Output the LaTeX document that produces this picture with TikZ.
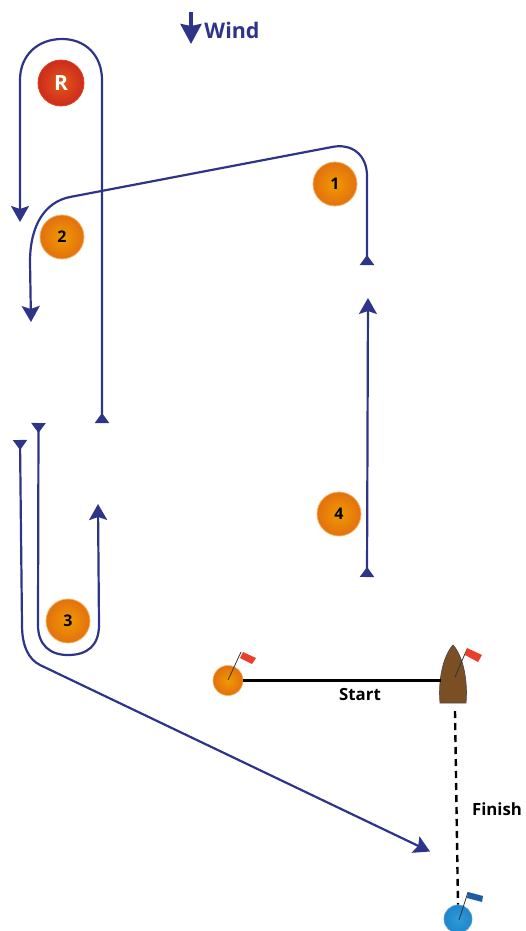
\documentclass[tikz,border=0pt]{standalone}
\usepackage{fontspec}
\setmainfont{Open Sans}
\usetikzlibrary{arrows.meta}
\definecolor{course}{HTML}{2E3488}
\definecolor{markmid}{HTML}{F09A00}
\definecolor{markedge}{HTML}{E3700F}
\definecolor{markline}{HTML}{F3B45A}
\definecolor{roundmid}{HTML}{D8501C}
\definecolor{roundedge}{HTML}{CE2A1E}
\definecolor{hull}{HTML}{7B4F24}
\definecolor{flagred}{HTML}{E8402A}
\definecolor{flagblue}{HTML}{1F5CA8}
\definecolor{finishmid}{HTML}{2E9BD8}
\definecolor{finishedge}{HTML}{1F86CC}

\begin{document}
\begin{tikzpicture}[x=1pt,y=-1pt]
\tikzstyle{buoy}=[circle,draw=markline,line width=0.8pt,inner sep=0pt,minimum size=44pt,inner color=markmid,outer color=markedge,font=\bfseries\fontsize{16}{16}\selectfont]
\tikzstyle{roundmark}=[circle,draw=roundedge!70!orange,line width=0.8pt,inner sep=0pt,minimum size=46pt,inner color=roundmid!80!orange,outer color=roundedge,text=white,font=\bfseries\fontsize{21}{21}\selectfont]
\tikzstyle{gatebuoy}=[circle,draw=markline,line width=0.6pt,inner sep=0pt,minimum size=30pt,inner color=markmid,outer color=markedge]
\tikzstyle{finishbuoy}=[circle,draw=finishedge!80!white,line width=0.6pt,inner sep=0pt,minimum size=28pt,inner color=finishmid,outer color=finishedge]
\tikzstyle{leg}=[draw=course,line width=2.2pt,{Triangle[reversed,length=10pt,width=14pt]}-{Stealth[length=16pt,width=18pt,inset=3pt]}]
\tikzstyle{pole}=[draw=black!80,line width=0.8pt]
\tikzstyle{caption}=[inner sep=0pt,font=\bfseries\fontsize{16.8}{16.8}\selectfont]
\useasboundingbox (0,0) rectangle (525,931);

\node[roundmark] (markR) at (61,83){R};
\node[buoy] (mark1) at (335,184){1};
\node[buoy] (mark2) at (62,237){2};
\node[buoy] (mark3) at (68,621){3};
\node[buoy] (mark4) at (339,514){4};
\node[gatebuoy] (startbuoy) at (228,680.5){};
\node[finishbuoy] (finishpin) at (458,919){};

\node[caption,text=course,font=\bfseries\fontsize{21.5}{21.5}\selectfont] (windlabel) at (232,30){Wind};
\node[caption] (startlabel) at (360,694){Start};
\node[caption] (finishlabel) at (497,809){Finish};

\coordinate (wind_a) at (191,12);
\coordinate (wind_b) at (191,44);
\coordinate (leg1_a) at (102,423);
\coordinate (leg1_b) at (20,222);
\coordinate (leg2_a) at (367,265);
\coordinate (leg2_b) at (31,322);
\coordinate (leg3_a) at (38.5,423);
\coordinate (leg3_b) at (98,504);
\coordinate (leg4_a) at (20,440);
\coordinate (leg4_b) at (430,851.5);
\coordinate (leg5_a) at (367,577);
\coordinate (leg5_b) at (368,298);
\coordinate (boat_w) at (441,680.5);
\coordinate (boat_s) at (455,711);

% boat and flags
\draw[fill=hull,draw=black!70,line width=0.7pt] (440,703) .. controls (438,680) and (443,656) .. (453,645) .. controls (463,656) and (468,680) .. (466,703) -- cycle;
\draw[pole] (455,677)--(467,649);
\fill[flagred] (467,648)--(482,655)--(478,662)--(465,655)--cycle;
\draw[pole] (228,680)--(241,652);
\fill[flagred] (243,652)--(256,658)--(252,664)--(240,658)--cycle;
\draw[pole] (459,920)--(468,892);
\fill[flagblue] (468,892)--(483,896)--(482,902)--(467,898)--cycle;

\draw[draw=course,line width=3.6pt,-{Stealth[length=20pt,width=21pt,inset=2pt]}] (wind_a)--(wind_b);

\draw[leg] (leg1_a)--(102,80) .. controls (102,55) and (85,39) .. (62,39) .. controls (38,39) and (20,55) .. (20,80)--(leg1_b);
\draw[leg] (leg2_a)--(367,176) .. controls (367,155) and (352,143) .. (332,147)--(70,197) .. controls (45,202) and (30,225) .. (30,262)--(leg2_b);
\draw[leg] (leg3_a)--(38,625) .. controls (38,645) and (50,655) .. (68,655) .. controls (88,655) and (99,645) .. (99,625)--(leg3_b);
\draw[leg] (leg4_a)--(22,625) .. controls (22,645) and (28,659) .. (40,665)--(leg4_b);
\draw[leg] (leg5_a)--(leg5_b);

\draw[black,line width=2.4pt] (startbuoy)--(boat_w);
\draw[black,line width=2.4pt,dash pattern=on 7pt off 5pt] (boat_s)--(finishpin.north);

\end{tikzpicture}
\end{document}
